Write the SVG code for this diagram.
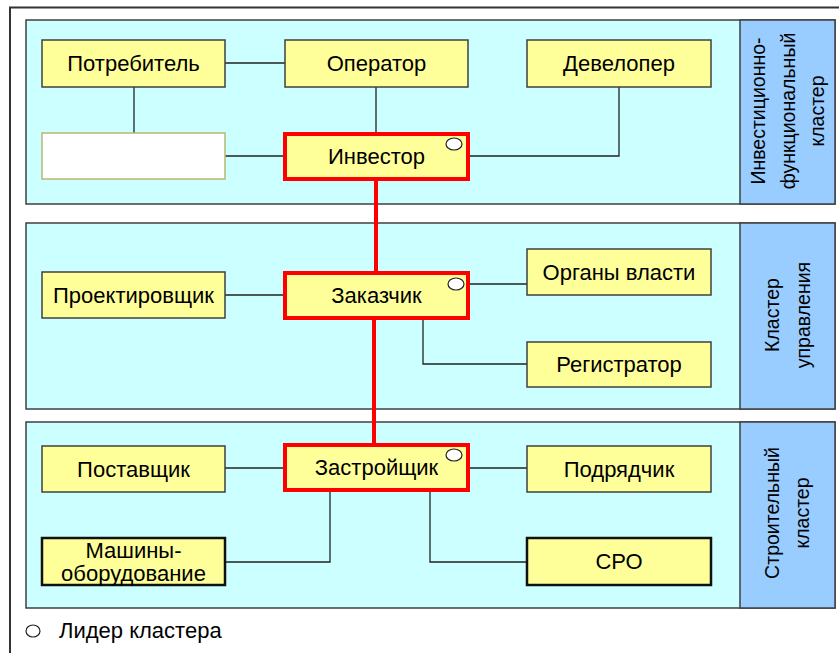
<svg xmlns="http://www.w3.org/2000/svg" width="839" height="653" viewBox="0 0 839 653">
<style>
text{font-family:"Liberation Sans",Arial,sans-serif;font-size:22px;fill:#000}
.v{font-size:19.5px}
.cl{fill:#CCFFFF;stroke:#404040;stroke-width:1.5}
.lp{fill:#99CCFF;stroke:#404040;stroke-width:1.5}
.bx{fill:#FFFF99;stroke:#404040;stroke-width:1.5}
.bx2{fill:#FFFF99;stroke:#111;stroke-width:2.5}
.ld{fill:#FFFF99;stroke:#FF0000;stroke-width:4}
.lc{fill:#fff;stroke:#222;stroke-width:1.2}
.ln{fill:none;stroke:#222;stroke-width:1.3}
.rl{fill:none;stroke:#FF0000;stroke-width:4}
.t{text-anchor:middle;dominant-baseline:central}
</style>
<rect width="839" height="653" fill="#fff"/>
<path d="M10,653 V7.5 H839" fill="none" stroke="#333" stroke-width="2"/>
<g id="clusters">
<rect class="cl" x="26" y="20" width="809" height="184"/>
<rect class="lp" x="740" y="20" width="95" height="184"/>
<rect class="cl" x="26" y="223" width="809" height="186"/>
<rect class="lp" x="740" y="223" width="95" height="186"/>
<rect class="cl" x="26" y="422" width="809" height="186"/>
<rect class="lp" x="740" y="422" width="95" height="186"/>
<text class="t v" transform="rotate(-90 758 111)" x="758" y="111">Инвестиционно-</text>
<text class="t v" transform="rotate(-90 788 111)" x="788" y="111">функциональный</text>
<text class="t v" transform="rotate(-90 817 111)" x="817" y="111">кластер</text>
<text class="t v" transform="rotate(-90 772 315)" x="772" y="315">Кластер</text>
<text class="t v" transform="rotate(-90 803 315)" x="803" y="315">управления</text>
<text class="t v" transform="rotate(-90 772 513)" x="772" y="513">Строительный</text>
<text class="t v" transform="rotate(-90 802 513)" x="802" y="513">кластер</text>
</g>
<g id="connectors">
<path class="ln" d="M225,63 H285"/>
<path class="ln" d="M134,87 V133"/>
<path class="ln" d="M376,87 V133"/>
<path class="ln" d="M225,156 H284"/>
<path class="ln" d="M469,156 H619 V87"/>
<path class="ln" d="M225,295 H284"/>
<path class="ln" d="M469,284 H527"/>
<path class="ln" d="M423,318 V364 H527"/>
<path class="ln" d="M225,468 H284"/>
<path class="ln" d="M469,468 H527"/>
<path class="ln" d="M330,491 V562 H225"/>
<path class="ln" d="M430,491 V562 H527"/>
<path class="rl" d="M376,180 V272"/>
<path class="rl" d="M374,318 V444"/>
</g>
<g id="n-potrebitel"><rect class="bx" x="42" y="40" width="183" height="47"/><text class="t" x="133.5" y="63.5">Потребитель</text></g>
<g id="n-operator"><rect class="bx" x="285" y="40" width="183" height="47"/><text class="t" x="376.5" y="63.5">Оператор</text></g>
<g id="n-developer"><rect class="bx" x="527" y="40" width="184" height="47"/><text class="t" x="619" y="63.5">Девелопер</text></g>
<g id="n-blank"><rect x="42" y="133" width="183" height="46" fill="#fff" stroke="#B8B870" stroke-width="1.5"/></g>
<g id="n-investor"><rect class="ld" x="285" y="134" width="183" height="45"/><text class="t" x="376.5" y="156.5">Инвестор</text><ellipse class="lc" cx="454" cy="144" rx="8" ry="6"/></g>
<g id="n-proekt"><rect class="bx" x="42" y="272" width="183" height="46"/><text class="t" x="133.5" y="295">Проектировщик</text></g>
<g id="n-zakazchik"><rect class="ld" x="285" y="273" width="183" height="45"/><text class="t" x="376.5" y="295.5">Заказчик</text><ellipse class="lc" cx="456" cy="284" rx="8" ry="6"/></g>
<g id="n-organy"><rect class="bx" x="527" y="249" width="184" height="46"/><text class="t" x="619" y="272">Органы власти</text></g>
<g id="n-registrator"><rect class="bx" x="527" y="342" width="184" height="45"/><text class="t" x="619" y="364.5">Регистратор</text></g>
<g id="n-postavshik"><rect class="bx" x="42" y="446" width="183" height="46"/><text class="t" x="133.5" y="469">Поставщик</text></g>
<g id="n-zastroyshik"><rect class="ld" x="285" y="445" width="183" height="45"/><text class="t" x="376.5" y="467">Застройщик</text><ellipse class="lc" cx="454" cy="455" rx="8" ry="6"/></g>
<g id="n-podryadchik"><rect class="bx" x="527" y="446" width="184" height="46"/><text class="t" x="619" y="469">Подрядчик</text></g>
<g id="n-mashiny"><rect class="bx2" x="42" y="538" width="183" height="47"/><text class="t" x="133.5" y="550">Машины-</text><text class="t" x="133.5" y="573">оборудование</text></g>
<g id="n-sro"><rect class="bx2" x="527" y="538" width="184" height="47"/><text class="t" x="619" y="561">СРО</text></g>
<g id="legend"><ellipse class="lc" cx="33" cy="631" rx="7" ry="6" stroke-width="1.5"/><text x="59" y="638">Лидер кластера</text></g>
</svg>
